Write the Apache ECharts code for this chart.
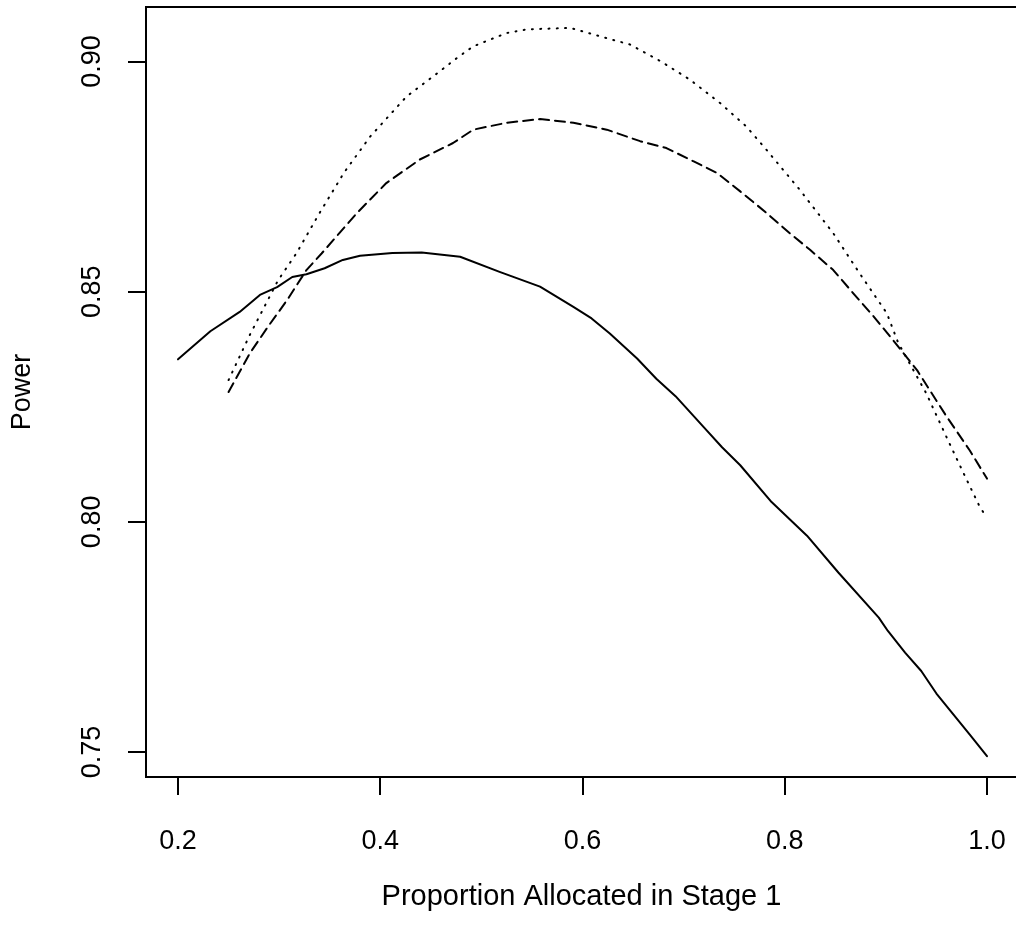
<!DOCTYPE html>
<html>
<head>
<meta charset="utf-8">
<script src="https://cdn.jsdelivr.net/npm/echarts@6/dist/echarts.min.js"></script>
<style>
    html, body { margin: 0; padding: 0; background: #fff; overflow: hidden; }
    #chart { width: 1016px; height: 933px; }
</style>
</head>
<body>
<div id="chart"></div>
<script>
// values
var xTicks = [0.2, 0.4, 0.6, 0.8, 1.0];
var yTicks = [0.75, 0.80, 0.85, 0.90];

var solidX = [0.200, 0.232, 0.261, 0.281, 0.298, 0.313, 0.327, 0.345, 0.363, 0.380, 0.412, 0.441, 0.479, 0.518, 0.558,
    0.591, 0.609, 0.627, 0.654, 0.673, 0.692, 0.721, 0.738, 0.756, 0.787, 0.822, 0.853, 0.893, 0.902, 0.919, 0.935,
    0.950, 0.983, 1.000];
var solidY = [0.8353, 0.8414, 0.8456, 0.8493, 0.8510, 0.8532, 0.8538, 0.8551, 0.8569, 0.8578, 0.8584, 0.8585, 0.8576,
    0.8543, 0.8511, 0.8467, 0.8442, 0.8409, 0.8355, 0.8311, 0.8273, 0.8203, 0.8162, 0.8123, 0.8043, 0.7970, 0.7890,
    0.7792, 0.7763, 0.7716, 0.7676, 0.7627, 0.7538, 0.7491];

var dashX = [0.250, 0.271, 0.289, 0.308, 0.327, 0.342, 0.377, 0.406, 0.439, 0.472, 0.492, 0.525, 0.558, 0.591, 0.624,
    0.657, 0.683, 0.710, 0.733, 0.756, 0.782, 0.805, 0.825, 0.848, 0.868, 0.888, 0.907, 0.931, 0.960, 0.983, 1.000];
var dashY = [0.8282, 0.8366, 0.8424, 0.8482, 0.8547, 0.8583, 0.8671, 0.8736, 0.8787, 0.8823, 0.8852, 0.8867, 0.8875,
    0.8867, 0.8852, 0.8827, 0.8812, 0.8783, 0.8758, 0.8718, 0.8671, 0.8627, 0.8591, 0.8547, 0.8496, 0.8446, 0.8395,
    0.8329, 0.8229, 0.8155, 0.8094];

var dotX = [0.250, 0.271, 0.299, 0.317, 0.340, 0.364, 0.390, 0.426, 0.459, 0.476, 0.492, 0.525, 0.545, 0.588, 0.617,
    0.647, 0.677, 0.706, 0.736, 0.762, 0.782, 0.815, 0.848, 0.874, 0.901, 0.912, 0.940, 0.960, 0.977, 0.993, 1.000];
var dotY = [0.8308, 0.8406, 0.8525, 0.8583, 0.8671, 0.8758, 0.8837, 0.8924, 0.8979, 0.9008, 0.9033, 0.9062, 0.9070,
    0.9073, 0.9055, 0.9037, 0.9001, 0.8961, 0.8910, 0.8859, 0.8808, 0.8721, 0.8627, 0.8540, 0.8453, 0.8390, 0.8279,
    0.8184, 0.8105, 0.8032, 0.8009];

function pairs(xs, ys) {
    var out = [];
    for (var i = 0; i < xs.length; i++) {
        out.push([xs[i], ys[i]]);
    }
    return out;
}

var chart = echarts.init(document.getElementById('chart'));
var font = 'Liberation Sans, Arial, Helvetica, sans-serif';

var option = {
    animation: false,
    backgroundColor: '#fff',
    grid: {
        left: 146,
        top: 7,
        width: 880,
        height: 770,
        outerBoundsMode: 'none',
        show: true,
        borderColor: '#000',
        borderWidth: 2,
        backgroundColor: 'transparent'
    },
    xAxis: {
        type: 'value',
        min: 0.16836,
        max: 1.03858,
        name: 'Proportion Allocated in Stage 1',
        nameLocation: 'middle',
        nameGap: 105,
        nameTextStyle: { fontSize: 29, color: '#000', fontFamily: font, padding: [0, 9, 0, 0] },
        axisLine: { show: false },
        axisTick: {
            show: true,
            length: 18,
            customValues: xTicks,
            lineStyle: { color: '#000', width: 2 }
        },
        axisLabel: {
            customValues: xTicks,
            margin: 51,
            fontSize: 27,
            color: '#000',
            fontFamily: font,
            formatter: function (v) { return v.toFixed(1); }
        },
        splitLine: { show: false }
    },
    yAxis: {
        type: 'value',
        min: 0.74457,
        max: 0.91185,
        name: 'Power',
        nameLocation: 'middle',
        nameGap: 110,
        nameTextStyle: { fontSize: 27, color: '#000', fontFamily: font },
        axisLine: { show: false },
        axisTick: {
            show: true,
            length: 18,
            customValues: yTicks,
            lineStyle: { color: '#000', width: 2 }
        },
        axisLabel: {
            customValues: yTicks,
            rotate: 90,
            margin: 40,
            fontSize: 27,
            color: '#000',
            fontFamily: font,
            formatter: function (v) { return v.toFixed(2); }
        },
        splitLine: { show: false }
    },
    series: [
        {
            name: 'solid',
            type: 'line',
            showSymbol: false,
            data: pairs(solidX, solidY),
            lineStyle: { color: '#000', width: 2, type: 'solid', cap: 'round', join: 'round' }
        },
        {
            name: 'dashed',
            type: 'line',
            showSymbol: false,
            data: pairs(dashX, dashY),
            lineStyle: { color: '#000', width: 2, type: [10, 6], cap: 'round', join: 'round' }
        },
        {
            name: 'dotted',
            type: 'line',
            showSymbol: false,
            data: pairs(dotX, dotY),
            lineStyle: { color: '#000', width: 2, type: [1, 7.3], cap: 'round', join: 'round' }
        }
    ]
};

chart.setOption(option);
</script>
</body>
</html>
